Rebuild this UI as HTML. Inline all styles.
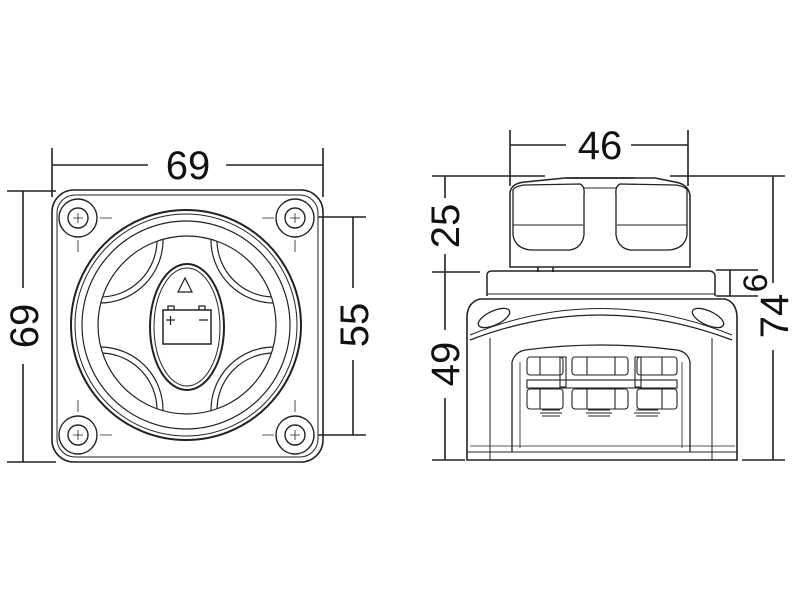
<!DOCTYPE html>
<html><head><style>html,body{margin:0;padding:0;background:#fff}svg{display:block}</style></head>
<body>
<svg width="800" height="600" viewBox="0 0 800 600" xmlns="http://www.w3.org/2000/svg">
<defs>
<clipPath id="kc"><circle cx="187" cy="325" r="89"/></clipPath>
</defs>
<g fill="none" stroke="#222" stroke-width="1.6">
<!-- LEFT VIEW dims -->
<line x1="52" y1="148" x2="52" y2="197"/>
<line x1="323" y1="148" x2="323" y2="197"/>
<line x1="52" y1="165" x2="148" y2="165"/>
<line x1="226" y1="165" x2="323" y2="165"/>
<line x1="7" y1="191" x2="56" y2="191"/>
<line x1="7" y1="462" x2="56" y2="462"/>
<line x1="23" y1="191" x2="23" y2="288"/>
<line x1="23" y1="364" x2="23" y2="462"/>
<line x1="318" y1="217" x2="366" y2="217"/>
<line x1="318" y1="435" x2="366" y2="435"/>
<line x1="353" y1="217" x2="353" y2="288"/>
<line x1="353" y1="360" x2="353" y2="435"/>
<!-- plate -->
<rect x="52" y="190" width="271" height="272" rx="22"/>
<rect x="57" y="195" width="261" height="262" rx="18" stroke-width="1"/>
<g stroke-width="1.4">
<circle cx="78" cy="218" r="19"/><circle cx="78" cy="218" r="10"/>
<circle cx="295" cy="218" r="19"/><circle cx="295" cy="218" r="10"/>
<circle cx="78" cy="435" r="19"/><circle cx="78" cy="435" r="10"/>
<circle cx="295" cy="435" r="19"/><circle cx="295" cy="435" r="10"/>
</g>
<g stroke-width="0.8">
<path d="M100 218 h12 M262 218 h12 M100 435 h12 M262 435 h12"/>
<path d="M78 240 v12 M295 240 v12 M78 400 v12 M295 400 v12"/>
<path d="M73 218 h10 M78 213 v10 M290 218 h10 M295 213 v10 M73 435 h10 M78 430 v10 M290 435 h10 M295 430 v10"/>
</g>
<!-- rings -->
<circle cx="186" cy="325" r="115" stroke-width="2"/>
<circle cx="186" cy="325" r="111" stroke-width="1"/>
<circle cx="186" cy="325" r="104" stroke-width="1.2"/>
<circle cx="187" cy="325" r="89" stroke-width="1.2"/>
<!-- knob arcs -->
<g clip-path="url(#kc)" stroke-width="1.2">
<circle cx="100" cy="240" r="63"/><circle cx="100" cy="240" r="57"/>
<circle cx="274" cy="240" r="63"/><circle cx="274" cy="240" r="57"/>
<circle cx="100" cy="410" r="63"/><circle cx="100" cy="410" r="57"/>
<circle cx="274" cy="410" r="63"/><circle cx="274" cy="410" r="57"/>
</g>
<ellipse cx="187" cy="327" rx="37" ry="63" stroke-width="2"/>
<ellipse cx="187" cy="327" rx="33" ry="59" stroke-width="1"/>
<path d="M178 292 L185 278 L192 292 Z" stroke-width="1.2"/>
<rect x="163" y="310" width="48" height="34" stroke-width="1.5"/>
<path d="M168 310 v-4 h6 v4 M199 310 v-4 h6 v4" stroke-width="1.3"/>
<path d="M166 320 h9 M170.5 316 v9 M199 320 h9" stroke-width="1.2"/>

<!-- RIGHT VIEW dims -->
<line x1="510" y1="130" x2="510" y2="186"/>
<line x1="688" y1="130" x2="688" y2="186"/>
<line x1="510" y1="145" x2="566" y2="145"/>
<line x1="631" y1="145" x2="688" y2="145"/>
<line x1="432" y1="176" x2="545" y2="176"/>
<line x1="670" y1="176" x2="785" y2="176"/>
<line x1="432" y1="272" x2="480" y2="272"/>
<line x1="432" y1="460" x2="465" y2="460"/>
<line x1="742" y1="460" x2="785" y2="460"/>
<line x1="445" y1="176" x2="445" y2="198"/>
<line x1="445" y1="254" x2="445" y2="330"/>
<line x1="445" y1="398" x2="445" y2="460"/>
<line x1="773" y1="176" x2="773" y2="283"/>
<line x1="773" y1="350" x2="773" y2="460"/>
<line x1="716" y1="270" x2="758" y2="270"/>
<line x1="716" y1="296" x2="758" y2="296"/>
<line x1="730" y1="270" x2="730" y2="296"/>
<!-- knob block -->
<path d="M510 267 V192 Q512 183 525 182 L565 178 H655 L675 182 Q688 184 690 195 V267 Z" stroke-width="1.5"/>
<path d="M513 190 Q515 186 525 185 L580 184 Q585 186 584 195 V235 Q582 248 570 250 H530 Q515 248 513 235 Z" stroke-width="1.3"/>
<path d="M687 190 Q685 186 675 185 L620 184 Q615 186 616 195 V235 Q618 248 630 250 H670 Q685 248 687 235 Z" stroke-width="1.3"/>
<line x1="513" y1="225" x2="583" y2="225" stroke-width="0.9"/>
<line x1="617" y1="225" x2="687" y2="225" stroke-width="0.9"/>
<line x1="584" y1="188" x2="616" y2="188" stroke-width="1"/>
<line x1="566" y1="178" x2="634" y2="178"/>
<line x1="538" y1="267" x2="538" y2="272"/><line x1="553" y1="267" x2="553" y2="272"/>
<!-- base top -->
<path d="M487 296 V274 Q488 271 492 271 H710 Q715 272 715 276 V296" stroke-width="1.5"/>
<line x1="487" y1="294" x2="715" y2="294" stroke-width="1"/>
<!-- body -->
<path d="M467 460 V316 Q468 302 480 299 H725 Q736 302 737 316 V460 Z" stroke-width="1.6"/>
<path d="M470 340 Q600 290 732 340" stroke-width="1.3"/>
<path d="M470 335 Q600 282 732 335" stroke-width="1"/>
<path d="M490 338 V460 M712 338 V460" stroke-width="1"/>
<ellipse cx="494" cy="318" rx="17" ry="7" transform="rotate(-25 494 318)" stroke-width="1.3"/>
<ellipse cx="708" cy="318" rx="17" ry="7" transform="rotate(25 708 318)" stroke-width="1.3"/>
<line x1="467" y1="452" x2="737" y2="452" stroke-width="1"/>
<line x1="470" y1="446" x2="735" y2="446" stroke-width="0.8"/>
<!-- window -->
<path d="M512 452 V362 Q515 352 525 350 Q600 340 677 350 Q688 352 690 362 V452" stroke-width="1.3"/>
<path d="M520 448 V362 M682 448 V362" stroke-width="0.8"/>
<g stroke-width="1.1">
<rect x="527" y="357" width="36" height="18" rx="3"/><line x1="540" y1="357" x2="540" y2="375"/>
<rect x="572" y="357" width="56" height="18" rx="3"/><line x1="587" y1="357" x2="587" y2="375"/><line x1="615" y1="357" x2="615" y2="375"/>
<rect x="637" y="357" width="40" height="18" rx="3"/><line x1="662" y1="357" x2="662" y2="375"/>
<rect x="527" y="380" width="150" height="8"/>
<rect x="527" y="389" width="36" height="20" rx="3"/><line x1="540" y1="389" x2="540" y2="409"/>
<rect x="572" y="389" width="56" height="20" rx="3"/><line x1="587" y1="389" x2="587" y2="409"/><line x1="615" y1="389" x2="615" y2="409"/>
<rect x="637" y="389" width="40" height="20" rx="3"/><line x1="662" y1="389" x2="662" y2="409"/>
<rect x="560" y="357" width="6" height="30"/><rect x="635" y="357" width="6" height="30"/>
<path d="M542 410 h18 M540 413 h22 M542 416 h18"/>
<path d="M588 410 h22 M586 413 h26 M588 416 h22"/>
<path d="M636 410 h22 M634 413 h26 M636 416 h22"/>
</g>
</g>
<g font-family="'Liberation Sans',sans-serif" font-size="40" fill="#111" text-anchor="middle">
<text x="188" y="179">69</text>
<text x="600" y="159">46</text>
<text transform="translate(38,326) rotate(-90)">69</text>
<text transform="translate(368,325) rotate(-90)">55</text>
<text transform="translate(459,226) rotate(-90)">25</text>
<text transform="translate(459,364) rotate(-90)">49</text>
<text transform="translate(788,316) rotate(-90)">74</text>
<text transform="translate(767,283) rotate(-90)" font-size="34">6</text>
</g>
</svg>
</body></html>
